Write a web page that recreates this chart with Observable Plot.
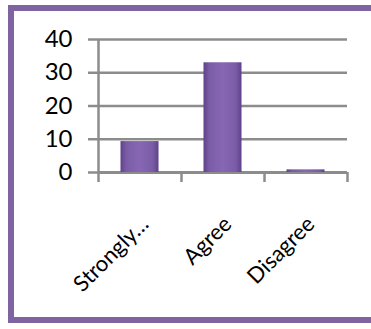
<!DOCTYPE html>
<html>
<head>
<meta charset="utf-8">
<script src="https://cdn.jsdelivr.net/npm/d3@7"></script>
<script src="https://cdn.jsdelivr.net/npm/@observablehq/plot@0.6"></script>
<style>
  html, body { margin: 0; padding: 0; background: #fff; }
  body { width: 371px; height: 329px; position: relative; overflow: hidden; }
  #frame { position: absolute; left: 8px; top: 5px; width: 400px; height: 318px;
           border: 6px solid #8064a2; box-sizing: border-box; }
  #chart { position: absolute; left: 0; top: 0; }
</style>
</head>
<body>
<div id="frame"></div>
<div id="chart"></div>
<script>
const categories = ["Strongly…", "Agree", "Disagree"];
const values = [9.3, 33, 0.8];
const yTicks = [0, 10, 20, 30, 40];
const gridValues = [10, 20, 30, 40];

const table = categories.map((c, i) => ({cat: c, value: values[i], i}));
const gray = "#8c8c8c";

const plot = Plot.plot({
  width: 371,
  height: 329,
  marginLeft: 98,
  marginRight: 24,
  marginTop: 39,
  marginBottom: 157,
  style: {fontFamily: "Lato, sans-serif", background: "transparent", overflow: "visible"},
  x: {domain: [0, categories.length]},
  y: {domain: [0, 40]},
  marks: [
    Plot.ruleY(gridValues, {stroke: gray, strokeWidth: 2.5}),
    Plot.ruleY([0], {stroke: gray, strokeWidth: 3}),
    Plot.ruleX([0], {stroke: gray, strokeWidth: 2.5}),
    Plot.axisY({ticks: yTicks, tickSize: 10, tickPadding: 16, fontSize: 24, stroke: gray, strokeWidth: 2.5, color: "#000", label: null, tickFormat: d => String(d)}),
    Plot.axisX({ticks: d3.range(categories.length + 1), tickSize: 10, tickFormat: () => "", stroke: gray, strokeWidth: 2.5, label: null}),
    Plot.rectY(table, {x1: d => d.i, x2: d => d.i + 1, y1: 0, y2: "value", insetLeft: 22.5, insetRight: 22.5, fill: "url(#barGrad)"}),
    Plot.text(table, {x: d => d.i + 0.5, y: 0, text: "cat", rotate: -45, textAnchor: "end", dx: 5, dy: 48, fontSize: 22, fill: "#000"})
  ]
});

const svg = d3.select(plot);
const defs = svg.insert("defs", ":first-child");
const g = defs.append("linearGradient").attr("id", "barGrad").attr("x1", "0").attr("x2", "1").attr("y1", "0").attr("y2", "0");
g.append("stop").attr("offset", "0%").attr("stop-color", "#5e4289");
g.append("stop").attr("offset", "15%").attr("stop-color", "#7a5ca6");
g.append("stop").attr("offset", "50%").attr("stop-color", "#8767b4");
g.append("stop").attr("offset", "85%").attr("stop-color", "#7a5ca6");
g.append("stop").attr("offset", "100%").attr("stop-color", "#5e4289");

document.getElementById("chart").appendChild(plot);
</script>
</body>
</html>
